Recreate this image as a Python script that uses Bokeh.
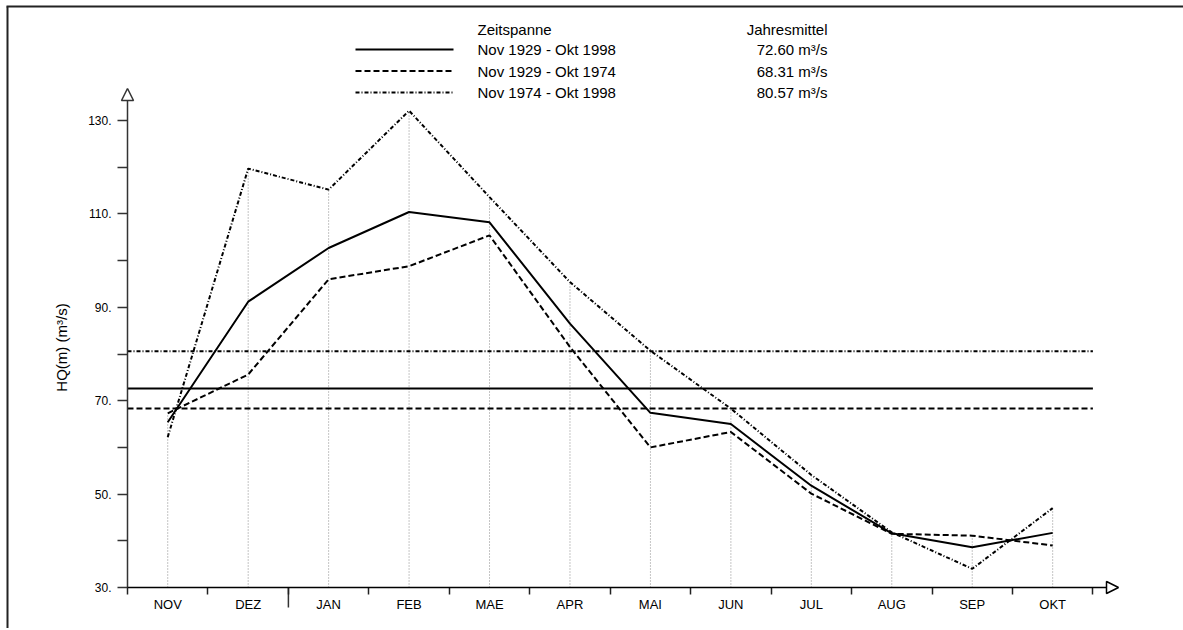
import math
from bokeh.plotting import figure
from bokeh.models import FixedTicker, Arrow, NormalHead, Range1d, LinearAxis
from bokeh.core.properties import value
from bokeh.embed import file_html
from bokeh.resources import INLINE

# ---------------- data ----------------
months = ["NOV", "DEZ", "JAN", "FEB", "MAE", "APR", "MAI", "JUN", "JUL", "AUG", "SEP", "OKT"]
hq_1929_1998 = [65.4, 91.2, 102.7, 110.4, 108.2, 86.5, 67.4, 65.0, 51.8, 41.6, 38.6, 41.7]
hq_1929_1974 = [67.3, 75.6, 96.0, 98.8, 105.4, 81.5, 60.0, 63.3, 50.1, 41.5, 41.1, 39.0]
hq_1974_1998 = [62.2, 119.7, 115.2, 132.1, 113.6, 95.4, 80.7, 68.3, 54.1, 41.8, 34.0, 47.0]
periods = ["Nov 1929 - Okt 1998", "Nov 1929 - Okt 1974", "Nov 1974 - Okt 1998"]
annual_means = [72.60, 68.31, 80.57]
y_major = [30, 50, 70, 90, 110, 130]
y_minor = [40, 60, 80, 100, 120]
y_label = "HQ(m) (m³/s)"

FONT = "Liberation Sans"
DASHES = ["solid", "6 3", "4 2 1 2"]
series = [hq_1929_1998, hq_1929_1974, hq_1974_1998]

W, H = 1183, 628

# page-pixel helpers (used only to place decorations / legend / labels)
def px_x(xp):
    return -0.5 + (xp - 127) / 80.45

def px_y(yp):
    return 30 + (587 - yp) / 4.67

idx = list(range(len(months)))
bounds = [i - 0.5 for i in range(len(months) + 1)]
y0 = y_major[0]

p = figure(width=W, height=H, output_backend="svg", toolbar_location=None,
           x_axis_type=None, y_axis_type=None,
           x_range=Range1d(px_x(0), px_x(W)), y_range=Range1d(px_y(H), px_y(0)),
           min_border=0)
p.grid.visible = False
p.outline_line_color = None
p.background_fill_color = "white"
p.border_fill_color = "white"

# x axis (fixed at y = 30)
xa = LinearAxis(fixed_location=y0, ticker=FixedTicker(ticks=idx, minor_ticks=bounds))
xa.major_label_overrides = {i: m for i, m in enumerate(months)}
xa.axis_line_alpha = 0
xa.major_tick_line_alpha = 0
xa.major_tick_out = 2
xa.major_tick_in = 0
xa.minor_tick_out = 7
xa.minor_tick_in = 0
xa.minor_tick_line_color = "#222222"
xa.minor_tick_line_width = 1.5
xa.major_label_standoff = 2
xa.major_label_text_font = FONT
xa.major_label_text_font_size = "13px"
xa.major_label_text_color = "black"
p.add_layout(xa, "below")

# y axis (fixed at first category boundary)
ya = LinearAxis(fixed_location=bounds[0], ticker=FixedTicker(ticks=y_major, minor_ticks=y_minor))
ya.major_label_overrides = {v: f"{v}." for v in y_major}
ya.axis_line_alpha = 0
ya.major_tick_out = 10
ya.major_tick_in = 0
ya.minor_tick_out = 10
ya.minor_tick_in = 0
ya.major_tick_line_color = "#333333"
ya.minor_tick_line_color = "#333333"
ya.major_tick_line_width = 1.5
ya.minor_tick_line_width = 1.5
ya.major_label_standoff = 6
ya.major_label_text_font = FONT
ya.major_label_text_font_size = "12px"
ya.major_label_text_color = "black"
p.add_layout(ya, "left")

p.text(x=[px_x(61)], y=[px_y(347)], text=[y_label], angle=math.pi / 2,
       text_align="center", text_baseline="middle", text_font=value(FONT),
       text_font_size="15px", text_color="black")

# vertical dotted guides up to the highest value of each month
tops = [max(a, b, c) for a, b, c in zip(*series)]
p.segment(x0=idx, y0=[y0] * len(idx), x1=idx, y1=tops,
          line_color="#8a8a8a", line_width=1, line_dash="1 2")

# annual mean lines
for m, d in zip(annual_means, DASHES):
    p.segment(x0=[bounds[0]], y0=[m], x1=[bounds[-1]], y1=[m],
              line_color="black", line_width=2, line_dash=d)

# monthly series
for s, d in zip(series, DASHES):
    p.line(idx, s, line_color="black", line_width=2, line_dash=d)

# long tick at year change (DEZ/JAN)
p.segment(x0=[bounds[2]], y0=[y0], x1=[bounds[2]], y1=[px_y(607)],
          line_color="#333333", line_width=1.5)

# axes lines with open arrow heads
p.add_layout(Arrow(end=NormalHead(size=12, fill_color="white", line_color="#333333", line_width=1.5),
                   x_start=bounds[0], y_start=y0, x_end=bounds[0], y_end=px_y(88),
                   line_color="#333333", line_width=1.5))
p.add_layout(Arrow(end=NormalHead(size=12, fill_color="white", line_color="black", line_width=1.5),
                   x_start=bounds[0], y_start=y0, x_end=px_x(1118), y_end=y0,
                   line_color="black", line_width=1.5))

# legend
lx_text, lx_val = px_x(477), px_x(827)
p.text(x=[lx_text], y=[px_y(29)], text=["Zeitspanne"], text_font=value(FONT),
       text_font_size="15px", text_baseline="middle", text_align="left", text_color="black")
p.text(x=[lx_val], y=[px_y(29)], text=["Jahresmittel"], text_font=value(FONT),
       text_font_size="15px", text_baseline="middle", text_align="right", text_color="black")
for k, (per, m, d) in enumerate(zip(periods, annual_means, DASHES)):
    yy = px_y(49 + 21.5 * k)
    p.segment(x0=[px_x(355)], y0=[yy], x1=[px_x(453)], y1=[yy],
              line_color="black", line_width=2, line_dash=d)
    p.text(x=[lx_text], y=[yy], text=[per], text_font=value(FONT), text_font_size="15px",
           text_baseline="middle", text_align="left", text_color="black")
    p.text(x=[lx_val], y=[yy], text=[f"{m:.2f} m³/s"], text_font=value(FONT),
           text_font_size="15px", text_baseline="middle", text_align="right", text_color="black")

# page frame (left and top edges)
p.segment(x0=[px_x(7)], y0=[px_y(6)], x1=[px_x(7)], y1=[px_y(H)],
          line_color="#222222", line_width=2)
p.segment(x0=[px_x(6)], y0=[px_y(6)], x1=[px_x(W)], y1=[px_y(6)],
          line_color="#222222", line_width=2)

open("out.html", "w").write(file_html(p, INLINE))
